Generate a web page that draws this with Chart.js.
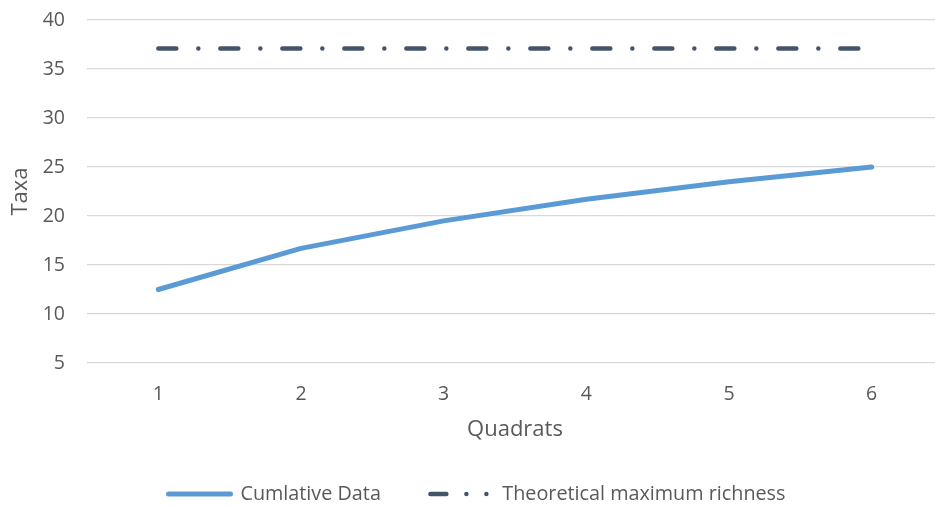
<!DOCTYPE html>
<html>
<head>
<meta charset="utf-8">
<script src="https://cdn.jsdelivr.net/npm/chart.js@4.4.1/dist/chart.umd.min.js"></script>
<style>
    body { margin: 0; overflow: hidden; background: #ffffff; }
</style>
</head>
<body>
<canvas id="graficoTaxa" width="943" height="508"></canvas>
<script>
// dados
const quadrats = ['1', '2', '3', '4', '5', '6']
const cumulativeData = [12.5, 16.7, 19.5, 21.7, 23.5, 25.0]
const maxRichness = [37.1, 37.1, 37.1, 37.1, 37.1, 37.1]
const yTicks = [5, 10, 15, 20, 25, 30, 35, 40]

const corTexto = '#595959'

Chart.defaults.font.family = "'Open Sans', sans-serif"
Chart.defaults.color = corTexto

const ctx = document.getElementById('graficoTaxa').getContext('2d')

const grafico = new Chart(ctx, {
    type: 'line',
    data: {
        labels: quadrats,
        datasets: [
            {
                label: 'Cumlative Data',
                data: cumulativeData,
                borderColor: '#5b9bd5',
                backgroundColor: '#5b9bd5',
                borderWidth: 5,
                borderCapStyle: 'round',
                borderJoinStyle: 'round',
                pointRadius: 0,
                tension: 0
            },
            {
                label: 'Theoretical maximum richness',
                data: maxRichness,
                borderColor: '#44546a',
                backgroundColor: '#44546a',
                borderWidth: 4.5,
                borderDash: [18, 22, 0, 22],
                borderCapStyle: 'round',
                pointRadius: 0,
                tension: 0
            }
        ]
    },
    options: {
        responsive: false,
        animation: false,
        devicePixelRatio: 1,
        layout: {
            padding: { top: 20, left: 11, right: 0, bottom: 0 }
        },
        scales: {
            x: {
                offset: true,
                grid: { display: false, drawTicks: false },
                border: { display: false },
                ticks: { padding: 19.5, font: { size: 19.5 }, color: corTexto },
                title: {
                    display: true,
                    text: 'Quadrats',
                    font: { size: 22 },
                    color: corTexto,
                    padding: { top: 0, bottom: -8.6 }
                },
                afterFit: (scale) => { scale.height = 71.6 }
            },
            y: {
                min: yTicks[0],
                max: yTicks[yTicks.length - 1],
                afterBuildTicks: (scale) => { scale.ticks = yTicks.map(v => ({ value: v })) },
                // marcas invisiveis so para afastar os rotulos do grafico
                grid: { color: '#d9d9d9', lineWidth: 1.3, drawTicks: true, tickLength: 22, tickColor: 'rgba(0,0,0,0)' },
                border: { display: false },
                ticks: { padding: 0, font: { size: 19.5 }, color: corTexto },
                title: {
                    display: true,
                    text: 'Taxa',
                    font: { size: 22 },
                    color: corTexto,
                    padding: { top: -3, bottom: 0 }
                },
                afterFit: (scale) => { scale.width = 76 }
            }
        },
        plugins: {
            legend: {
                display: true,
                position: 'bottom',
                maxHeight: 73.4,
                labels: {
                    usePointStyle: true,
                    pointStyle: 'line',
                    pointStyleWidth: 62,
                    padding: 49.5,
                    font: { size: 19.8 },
                    color: corTexto,
                    generateLabels: function (chart) {
                        const itens = Chart.defaults.plugins.legend.labels.generateLabels(chart)
                        itens.forEach((item) => {
                            item.lineCap = 'round'
                            item.lineWidth = item.datasetIndex === 0 ? 5 : 4.5
                            if (item.datasetIndex === 1) {
                                item.lineDash = [16, 20, 0, 20, 0, 100]
                            }
                        })
                        return itens
                    }
                }
            },
            tooltip: { enabled: false }
        }
    }
})
</script>
</body>
</html>
